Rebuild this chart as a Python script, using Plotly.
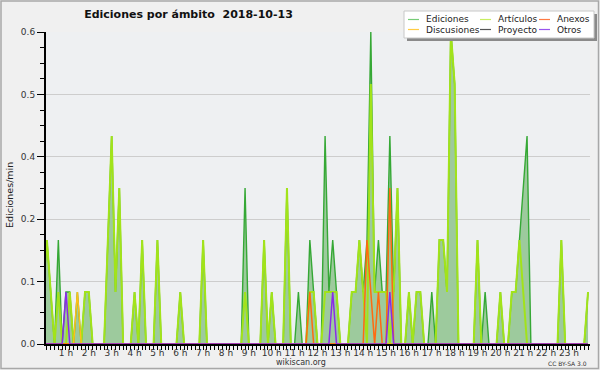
import plotly.graph_objects as go

# ---------------- data: 10-minute bins, edits per minute ----------------
bin_minutes = list(range(0, 1440, 10))

ediciones = [
    0.1, 0.2, 0.1, 0, 0.2, 0, 0.1, 0.1, 0, 0.1, 0, 0.1,
    0.1, 0, 0, 0, 0, 0.2, 0.4, 0.1, 0.3, 0, 0, 0,
    0.1, 0, 0.2, 0, 0, 0, 0.2, 0, 0, 0, 0, 0,
    0.1, 0, 0, 0, 0, 0, 0.2, 0, 0, 0, 0, 0,
    0, 0, 0, 0, 0, 0.3, 0, 0, 0, 0, 0.2, 0,
    0.1, 0, 0, 0, 0.3, 0, 0, 0.1, 0, 0, 0.2, 0.1,
    0, 0, 0.4, 0.1, 0.2, 0.1, 0, 0, 0, 0.1, 0.1, 0.2,
    0.1, 0.2, 0.6, 0.1, 0.2, 0.1, 0.1, 0.4, 0.1, 0.3, 0, 0,
    0.1, 0, 0.1, 0.1, 0, 0, 0.1, 0, 0.2, 0.2, 0.1, 0.6,
    0.5, 0, 0, 0, 0, 0, 0.2, 0, 0.1, 0, 0, 0,
    0.1, 0, 0, 0.1, 0.1, 0.2, 0.3, 0.4, 0, 0, 0, 0,
    0, 0, 0, 0, 0.2, 0, 0, 0, 0, 0, 0, 0.1,
]
articulos = [
    0.1, 0.2, 0.1, 0, 0.1, 0, 0, 0.1, 0, 0, 0, 0.1,
    0.1, 0, 0, 0, 0, 0.2, 0.4, 0.1, 0.3, 0, 0, 0,
    0.1, 0, 0.2, 0, 0, 0, 0.2, 0, 0, 0, 0, 0,
    0.1, 0, 0, 0, 0, 0, 0.2, 0, 0, 0, 0, 0,
    0, 0, 0, 0, 0, 0.1, 0, 0, 0, 0, 0.2, 0,
    0.1, 0, 0, 0, 0.3, 0, 0, 0, 0, 0, 0.1, 0.1,
    0, 0, 0.1, 0.1, 0.1, 0.1, 0, 0, 0, 0.1, 0.1, 0.2,
    0.1, 0, 0.5, 0.1, 0.1, 0.1, 0.1, 0, 0.1, 0.3, 0, 0,
    0.1, 0, 0.1, 0.1, 0, 0, 0, 0, 0.2, 0.2, 0.1, 0.6,
    0.5, 0, 0, 0, 0, 0, 0.2, 0, 0, 0, 0, 0,
    0.1, 0, 0, 0.1, 0.1, 0.2, 0.1, 0, 0, 0, 0, 0,
    0, 0, 0, 0, 0.2, 0, 0, 0, 0, 0, 0, 0.1,
]
anexos = [
    0, 0, 0, 0, 0, 0, 0, 0, 0, 0, 0, 0,
    0, 0, 0, 0, 0, 0, 0, 0, 0, 0, 0, 0,
    0, 0, 0, 0, 0, 0, 0, 0, 0, 0, 0, 0,
    0, 0, 0, 0, 0, 0, 0, 0, 0, 0, 0, 0,
    0, 0, 0, 0, 0, 0, 0, 0, 0, 0, 0, 0,
    0, 0, 0, 0, 0, 0, 0, 0, 0, 0, 0.1, 0,
    0, 0, 0, 0, 0, 0, 0, 0, 0, 0, 0, 0,
    0, 0.2, 0.1, 0, 0.1, 0, 0, 0.3, 0, 0, 0, 0,
    0, 0, 0, 0, 0, 0, 0, 0, 0, 0, 0, 0,
    0, 0, 0, 0, 0, 0, 0, 0, 0, 0, 0, 0,
    0, 0, 0, 0, 0, 0, 0, 0, 0, 0, 0, 0,
    0, 0, 0, 0, 0, 0, 0, 0, 0, 0, 0, 0,
]
discusiones = [
    0, 0, 0, 0, 0, 0, 0, 0, 0, 0.1, 0, 0,
    0, 0, 0, 0, 0, 0, 0, 0, 0, 0, 0, 0,
    0, 0, 0, 0, 0, 0, 0, 0, 0, 0, 0, 0,
    0, 0, 0, 0, 0, 0, 0, 0, 0, 0, 0, 0,
    0, 0, 0, 0, 0, 0, 0, 0, 0, 0, 0, 0,
    0, 0, 0, 0, 0, 0, 0, 0, 0, 0, 0, 0,
    0, 0, 0, 0, 0, 0, 0, 0, 0, 0, 0, 0,
    0, 0, 0, 0, 0, 0, 0, 0, 0, 0, 0, 0,
    0, 0, 0, 0, 0, 0, 0, 0, 0, 0, 0, 0,
    0, 0, 0, 0, 0, 0, 0, 0, 0, 0, 0, 0,
    0, 0, 0, 0, 0, 0, 0, 0, 0, 0, 0, 0,
    0, 0, 0, 0, 0, 0, 0, 0, 0, 0, 0, 0,
]
proyecto = [0] * 144
otros = [
    0, 0, 0, 0, 0, 0, 0.1, 0, 0, 0, 0, 0,
    0, 0, 0, 0, 0, 0, 0, 0, 0, 0, 0, 0,
    0, 0, 0, 0, 0, 0, 0, 0, 0, 0, 0, 0,
    0, 0, 0, 0, 0, 0, 0, 0, 0, 0, 0, 0,
    0, 0, 0, 0, 0, 0, 0, 0, 0, 0, 0, 0,
    0, 0, 0, 0, 0, 0, 0, 0, 0, 0, 0, 0,
    0, 0, 0, 0, 0.1, 0, 0, 0, 0, 0, 0, 0,
    0, 0, 0, 0, 0, 0, 0, 0.1, 0, 0, 0, 0,
    0, 0, 0, 0, 0, 0, 0, 0, 0, 0, 0, 0,
    0, 0, 0, 0, 0, 0, 0, 0, 0, 0, 0, 0,
    0, 0, 0, 0, 0, 0, 0, 0, 0, 0, 0, 0,
    0, 0, 0, 0, 0, 0, 0, 0, 0, 0, 0, 0,
]

series_names = ["Ediciones", "Artículos", "Anexos", "Discusiones", "Proyecto", "Otros"]
legend_rows = [["Ediciones", "Artículos", "Anexos"], ["Discusiones", "Proyecto", "Otros"]]
title_text = "Ediciones por ámbito\u00a0 2018-10-13"
y_title = "Ediciones/min"

# ---------------- styles ----------------
line_colors = {
    "Ediciones": "#35a835",
    "Artículos": "#a2e31a",
    "Anexos": "#ff6a10",
    "Discusiones": "#ffbf1a",
    "Proyecto": "#555555",
    "Otros": "#8a2be8",
}
legend_colors = {
    "Ediciones": "#77cc77",
    "Artículos": "#c8ee60",
    "Anexos": "#ff7a44",
    "Discusiones": "#ffcc44",
    "Proyecto": "#555555",
    "Otros": "#9955ee",
}
line_widths = {"Ediciones": 1.4, "Artículos": 2, "Anexos": 1.5,
               "Discusiones": 1.5, "Proyecto": 1.5, "Otros": 1.5}

W, H = 600, 370
L, R, T, B = 46, 10, 32, 26
PW, PH = W - L - R, H - T - B


def pxx(x):
    return (x - L) / PW


def pxy(y):
    return (H - B - y) / PH


x_hours = [m / 60 for m in bin_minutes]
values = {
    "Ediciones": ediciones, "Artículos": articulos, "Anexos": anexos,
    "Discusiones": discusiones, "Proyecto": proyecto, "Otros": otros,
}

fig = go.Figure()
for name in ["Ediciones", "Artículos", "Proyecto", "Discusiones", "Anexos", "Otros"]:
    kw = {}
    if name == "Ediciones":
        kw = dict(fill="tozeroy", fillcolor="#9dca9d")
    fig.add_trace(go.Scatter(
        x=x_hours, y=values[name], name=name, mode="lines",
        line=dict(color=line_colors[name], width=line_widths[name]),
        showlegend=False, **kw))

fig.update_layout(
    width=W, height=H,
    margin=dict(l=L, r=R, t=T, b=B, pad=0),
    paper_bgcolor="#f0f0f0", plot_bgcolor="#eef0f2",
    font=dict(family="DejaVu Sans", size=9, color="#333333"),
    showlegend=False,
    title=dict(text="<b>" + title_text + "</b>", x=188.5 / W, xanchor="center",
               xref="container", y=1 - 14.5 / H, yanchor="middle", yref="container",
               font=dict(family="DejaVu Sans", size=11, color="#111111")),
)
fig.update_xaxes(
    range=[0.127, 23.92], tickmode="linear", tick0=0, dtick=1, ticksuffix=" h",
    ticks="outside", ticklen=4, tickwidth=1, tickcolor="black",
    showline=True, linecolor="black", linewidth=2, showgrid=False, zeroline=False,
    tickfont=dict(size=9, color="#333333"), ticklabelstandoff=-5,
    minor=dict(tick0=0, dtick=1 / 6, ticks="outside", ticklen=4, tickwidth=1,
               tickcolor="black", showgrid=False),
)
fig.update_yaxes(
    range=[0, 0.6001], tickmode="linear", tick0=0, dtick=0.12, tickformat=".1f",
    ticks="outside", ticklen=7, tickwidth=1, tickcolor="black",
    showline=True, linecolor="black", linewidth=2,
    showgrid=True, gridcolor="#cdcdcd", gridwidth=1, zeroline=False,
    tickfont=dict(size=9, color="#333333"),
    minor=dict(tick0=0, dtick=0.03, ticks="outside", ticklen=4, tickwidth=1,
               tickcolor="black", showgrid=False),
)

shapes = []
annotations = []
# outer frame
shapes.append(dict(type="rect", xref="paper", yref="paper",
                   x0=pxx(1), x1=pxx(598.5), y0=pxy(1), y1=pxy(368.5),
                   line=dict(color="#a8a8a8", width=1.5), layer="below"))
# legend box with shadow
shapes.append(dict(type="rect", xref="paper", yref="paper",
                   x0=pxx(407), x1=pxx(597), y0=pxy(14), y1=pxy(41),
                   fillcolor="#8a8a8a", line=dict(width=0), layer="above"))
shapes.append(dict(type="rect", xref="paper", yref="paper",
                   x0=pxx(404), x1=pxx(594), y0=pxy(11), y1=pxy(38),
                   fillcolor="white", line=dict(color="#c8c8c8", width=1), layer="above"))
col_line_x = [(408, 419), (480, 491), (539, 550)]
col_text_x = [424, 496, 555]
row_y = [19.5, 29.5]
for r, row in enumerate(legend_rows):
    for c, name in enumerate(row):
        shapes.append(dict(type="line", xref="paper", yref="paper",
                           x0=pxx(col_line_x[c][0]), x1=pxx(col_line_x[c][1]),
                           y0=pxy(row_y[r]), y1=pxy(row_y[r]),
                           line=dict(color=legend_colors[name], width=1.2), layer="above"))
        annotations.append(dict(text=name, xref="paper", yref="paper",
                                x=pxx(col_text_x[c]), y=pxy(row_y[r]),
                                xanchor="left", yanchor="middle", showarrow=False,
                                font=dict(size=9, color="#222222")))

annotations.append(dict(text=y_title, xref="paper", yref="paper",
                        x=pxx(10), y=pxy(195), textangle=-90,
                        xanchor="center", yanchor="middle", showarrow=False,
                        font=dict(size=9.5, color="#222222")))
annotations.append(dict(text="wikiscan.org", xref="paper", yref="paper",
                        x=pxx(300.5), y=pxy(362), xanchor="center", yanchor="middle",
                        showarrow=False, font=dict(size=8, color="#333333")))
annotations.append(dict(text="CC BY-SA 3.0", xref="paper", yref="paper",
                        x=pxx(589), y=pxy(363), xanchor="right", yanchor="middle",
                        showarrow=False, font=dict(size=6, color="#333333")))

fig.update_layout(shapes=shapes, annotations=annotations)

fig.write_html("out.html", config={"displayModeBar": False},
               post_script="document.body.style.margin='0';")
